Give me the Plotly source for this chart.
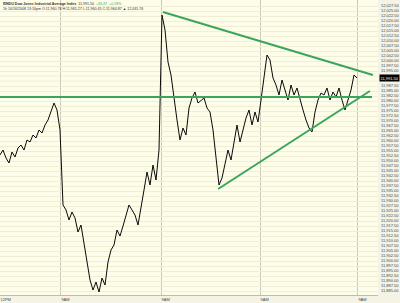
import plotly.graph_objects as go

# Intraday price series (sampled), DJIA
close = [
    11953.0, 11955.5, 11951.5, 11949.0, 11954.5, 11952.0, 11956.5, 11958.0, 11955.5, 11960.5,
    11959.5, 11963.0, 11961.5, 11965.5, 11964.0, 11968.0, 11970.5, 11974.5, 11979.0, 11975.5,
    11965.5, 11928.0, 11925.5, 11920.5, 11924.5, 11921.5, 11914.5, 11918.0, 11908.0, 11899.5,
    11890.5, 11885.5, 11889.5, 11884.5, 11891.5, 11888.0, 11899.5, 11905.5, 11908.0, 11915.5,
    11912.5, 11917.5, 11923.0, 11928.0, 11925.5, 11923.0, 11918.0, 11928.0, 11935.5, 11944.5,
    11938.0, 11948.0, 11940.5, 11955.5, 12023.0, 12015.5, 11999.5, 11993.0, 11980.5, 11970.5,
    11960.5, 11966.5, 11963.0, 11976.5, 11981.5, 11984.5, 11979.0, 11980.5, 11981.5, 11976.5,
    11974.5, 11965.5, 11950.5, 11938.0, 11941.5, 11948.0, 11955.5, 11950.5, 11960.5, 11968.0,
    11959.5, 11965.5, 11971.5, 11975.5, 11968.0, 11974.5, 11969.5, 11980.5, 11993.0, 12003.0,
    12000.5, 11991.5, 11988.0, 11983.0, 11990.5, 11985.5, 11980.5, 11988.0, 11983.0, 11986.5,
    11980.5, 11975.5, 11970.5, 11966.5, 11964.5, 11974.5, 11980.5, 11984.0, 11983.0, 11986.5,
    11980.5, 11984.5, 11982.0, 11986.5, 11980.5, 11975.5, 11980.5, 11985.5, 11993.0, 11991.5,
]
bar_index = list(range(len(close)))

# Day boundaries (bar index) and labels
day_ticks = [0, 20.3, 53.7, 86.7, 119.3]
day_labels = ["12PM", "9AM", "9AM", "9AM", "9AM"]

# Price scale ticks
price_ticks = [11885 + 2.5 * k for k in range(59)]

# Trend lines drawn on the chart
resist_x = [54.3, 124.3]
resist_y = [12024.5, 11993.0]
support_x = [72.7, 123.3]
support_y = [11936.0, 11985.0]
hline_x = [0, 124.0]
hline_y = [11982.0, 11982.0]

prev_close = 11958.03
last = close[-1]
chg = last - prev_close
pct = chg / prev_close * 100

green = "#3aa55c"

# hide price labels covered by the last-price marker
shown_ticks = [t for t in price_ticks if abs(t - last) >= 2.6]
shown_text = [f"{t:,.2f}" for t in shown_ticks]

fig = go.Figure()
# price-scale grid (all ticks)
fig.add_trace(go.Scatter(x=bar_index, y=close, mode="lines",
                         line=dict(color="#0a0a0a", width=1.0), hoverinfo="skip"))
for xs, ys in [(resist_x, resist_y), (support_x, support_y), (hline_x, hline_y)]:
    fig.add_trace(go.Scatter(x=xs, y=ys, mode="lines",
                             line=dict(color=green, width=2), hoverinfo="skip"))

fig.update_layout(
    width=400, height=303,
    margin=dict(l=0, r=22, t=0, b=8),
    paper_bgcolor="#f4f3e4",
    plot_bgcolor="#fdfdea",
    showlegend=False,
    font=dict(family="Liberation Sans, Arial, sans-serif", size=4, color="#444444"),
    xaxis=dict(range=[0, 126], tickmode="array", tickvals=day_ticks, ticktext=day_labels,
               showgrid=True, gridcolor="#c9c8bd", gridwidth=1, zeroline=False,
               ticks="", ticklabelposition="outside right", showline=True,
               linecolor="#bdbcae", linewidth=1, tickfont=dict(size=4)),
    yaxis=dict(range=[11883, 12030.5], side="right", tickmode="array",
               tickvals=shown_ticks, ticktext=shown_text,
               showgrid=True, gridcolor="#f0eed3", gridwidth=1,
               zeroline=False, ticks="", ticklabelstandoff=2, tickfont=dict(size=4)),
)

# grid lines also under the marker rows
for t in price_ticks:
    if abs(t - last) < 2.6:
        fig.add_shape(type="line", xref="paper", yref="y", x0=0, x1=1, y0=t, y1=t,
                      line=dict(color="#f0eed3", width=1), layer="below")

fig.add_annotation(xref="paper", yref="y", x=1.058, y=last, xanchor="right",
                   text=f"{last:,.2f}", showarrow=False, bgcolor="#000000",
                   font=dict(color="#ffffff", size=4), borderpad=0.5)

fig.add_annotation(xref="paper", yref="paper", x=0.003, y=1.0, xanchor="left", yanchor="top",
                   showarrow=False, align="left",
                   text=(f"<b>$INDU Dow Jones Industrial Average Index</b>  {last:,.2f}  "
                         f"<span style='color:{green}'>+{chg:.2f}  +{pct:.2f}%</span><br>"
                         "1h 10/16/2008 13:16pm O:11,960.78 H:11,965.27 L:11,960.45 C:11,964.87 "
                         "\u25b2 12,031.76"),
                   font=dict(size=3.6, color="#333333"))

fig.write_html("out.html")
